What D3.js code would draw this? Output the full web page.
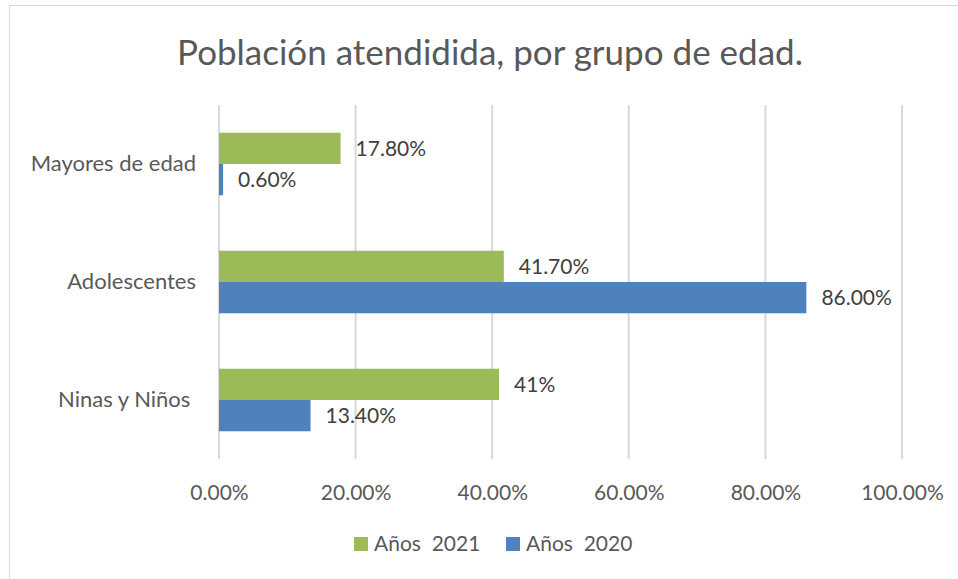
<!DOCTYPE html>
<html>
<head>
<meta charset="utf-8">
<script src="https://cdn.jsdelivr.net/npm/d3@7"></script>
<style>
  body { margin: 0; background: #fff; }
  text { font-family: Lato, "Open Sans", sans-serif; }
</style>
</head>
<body>
<script>
// bar chart: poblacion atendida por grupo de edad

var categories = ["Mayores de edad", "Adolescentes", "Ninas y Niños "];
var series = ["Años  2021", "Años  2020"];
var values2021 = [0.178, 0.417, 0.41];
var values2020 = [0.006, 0.86, 0.134];
var labels2021 = ["17.80%", "41.70%", "41%"];
var labels2020 = ["0.60%", "86.00%", "13.40%"];
var xTicks = [0, 0.2, 0.4, 0.6, 0.8, 1.0];
var colors = ["#9BBB59", "#4F81BD"];

var width = 958,
    height = 579;

var svg = d3.select("body")
            .append("svg")
            .attr("width", width)
            .attr("height", height);

svg.append("rect")
   .attr("width", width)
   .attr("height", height)
   .attr("fill", "white");

// chart border (right and bottom cut off in the picture)
svg.append("rect")
   .attr("x", 9.5)
   .attr("y", 5.5)
   .attr("width", 960)
   .attr("height", 600)
   .attr("fill", "none")
   .attr("stroke", "#d9d9d9");

svg.append("text")
   .attr("x", 490)
   .attr("y", 65)
   .attr("text-anchor", "middle")
   .attr("font-size", 35)
   .attr("fill", "#595959")
   .text("Población atendidida, por grupo de edad.");

var x = d3.scaleLinear().domain([0, 1]).range([219, 902]);

var y = d3.scaleBand()
          .domain(categories)
          .range([105, 459])
          .paddingInner(0.47)
          .paddingOuter(0.235);

var ySub = d3.scaleBand()
             .domain(series)
             .range([0, y.bandwidth()]);

// gridlines
svg.append("g")
   .selectAll("line")
   .data(xTicks)
   .join("line")
   .attr("x1", d => x(d))
   .attr("x2", d => x(d))
   .attr("y1", 105)
   .attr("y2", 459)
   .attr("stroke", "#d9d9d9")
   .attr("stroke-width", 2);

// x axis labels
var xAxis = d3.axisBottom(x)
              .tickValues(xTicks)
              .tickFormat(d3.format(".2%"))
              .tickSize(0)
              .tickPadding(0);

var gx = svg.append("g")
            .attr("transform", "translate(0,485)")
            .call(xAxis);
gx.select(".domain").remove();
gx.selectAll("text")
  .attr("font-size", 21)
  .attr("fill", "#595959")
  .attr("font-family", "Lato, 'Open Sans', sans-serif");

// category labels
var yAxis = d3.axisLeft(y).tickSize(0).tickPadding(0);
var gy = svg.append("g")
            .attr("transform", "translate(196,0)")
            .call(yAxis);
gy.select(".domain").remove();
gy.selectAll("text")
  .attr("font-size", 22)
  .attr("fill", "#595959")
  .attr("font-family", "Lato, 'Open Sans', sans-serif")
  .style("white-space", "pre");

var data = [values2021, values2020];
var labelData = [labels2021, labels2020];

series.forEach(function(s, si) {
  var g = svg.append("g");
  g.selectAll("rect")
   .data(categories)
   .join("rect")
   .attr("x", x(0))
   .attr("y", c => y(c) + ySub(s))
   .attr("width", (c, i) => x(data[si][i]) - x(0))
   .attr("height", ySub.bandwidth())
   .attr("fill", colors[si]);

  g.selectAll("text")
   .data(categories)
   .join("text")
   .attr("x", (c, i) => x(data[si][i]) + 15)
   .attr("y", c => y(c) + ySub(s) + ySub.bandwidth() / 2)
   .attr("dy", "0.35em")
   .attr("font-size", 21)
   .attr("fill", "#404040")
   .text((c, i) => labelData[si][i]);
});

// legend
var legendX = [354, 506];
var legend = svg.append("g")
                .selectAll("g")
                .data(series)
                .join("g")
                .attr("transform", (d, i) => "translate(" + legendX[i] + ",537)");

legend.append("rect")
      .attr("width", 14)
      .attr("height", 14)
      .attr("fill", (d, i) => colors[i]);

legend.append("text")
      .attr("x", 20)
      .attr("y", 7)
      .attr("dy", "0.35em")
      .attr("font-size", 21)
      .attr("fill", "#595959")
      .style("white-space", "pre")
      .text(d => d);
</script>
</body>
</html>
